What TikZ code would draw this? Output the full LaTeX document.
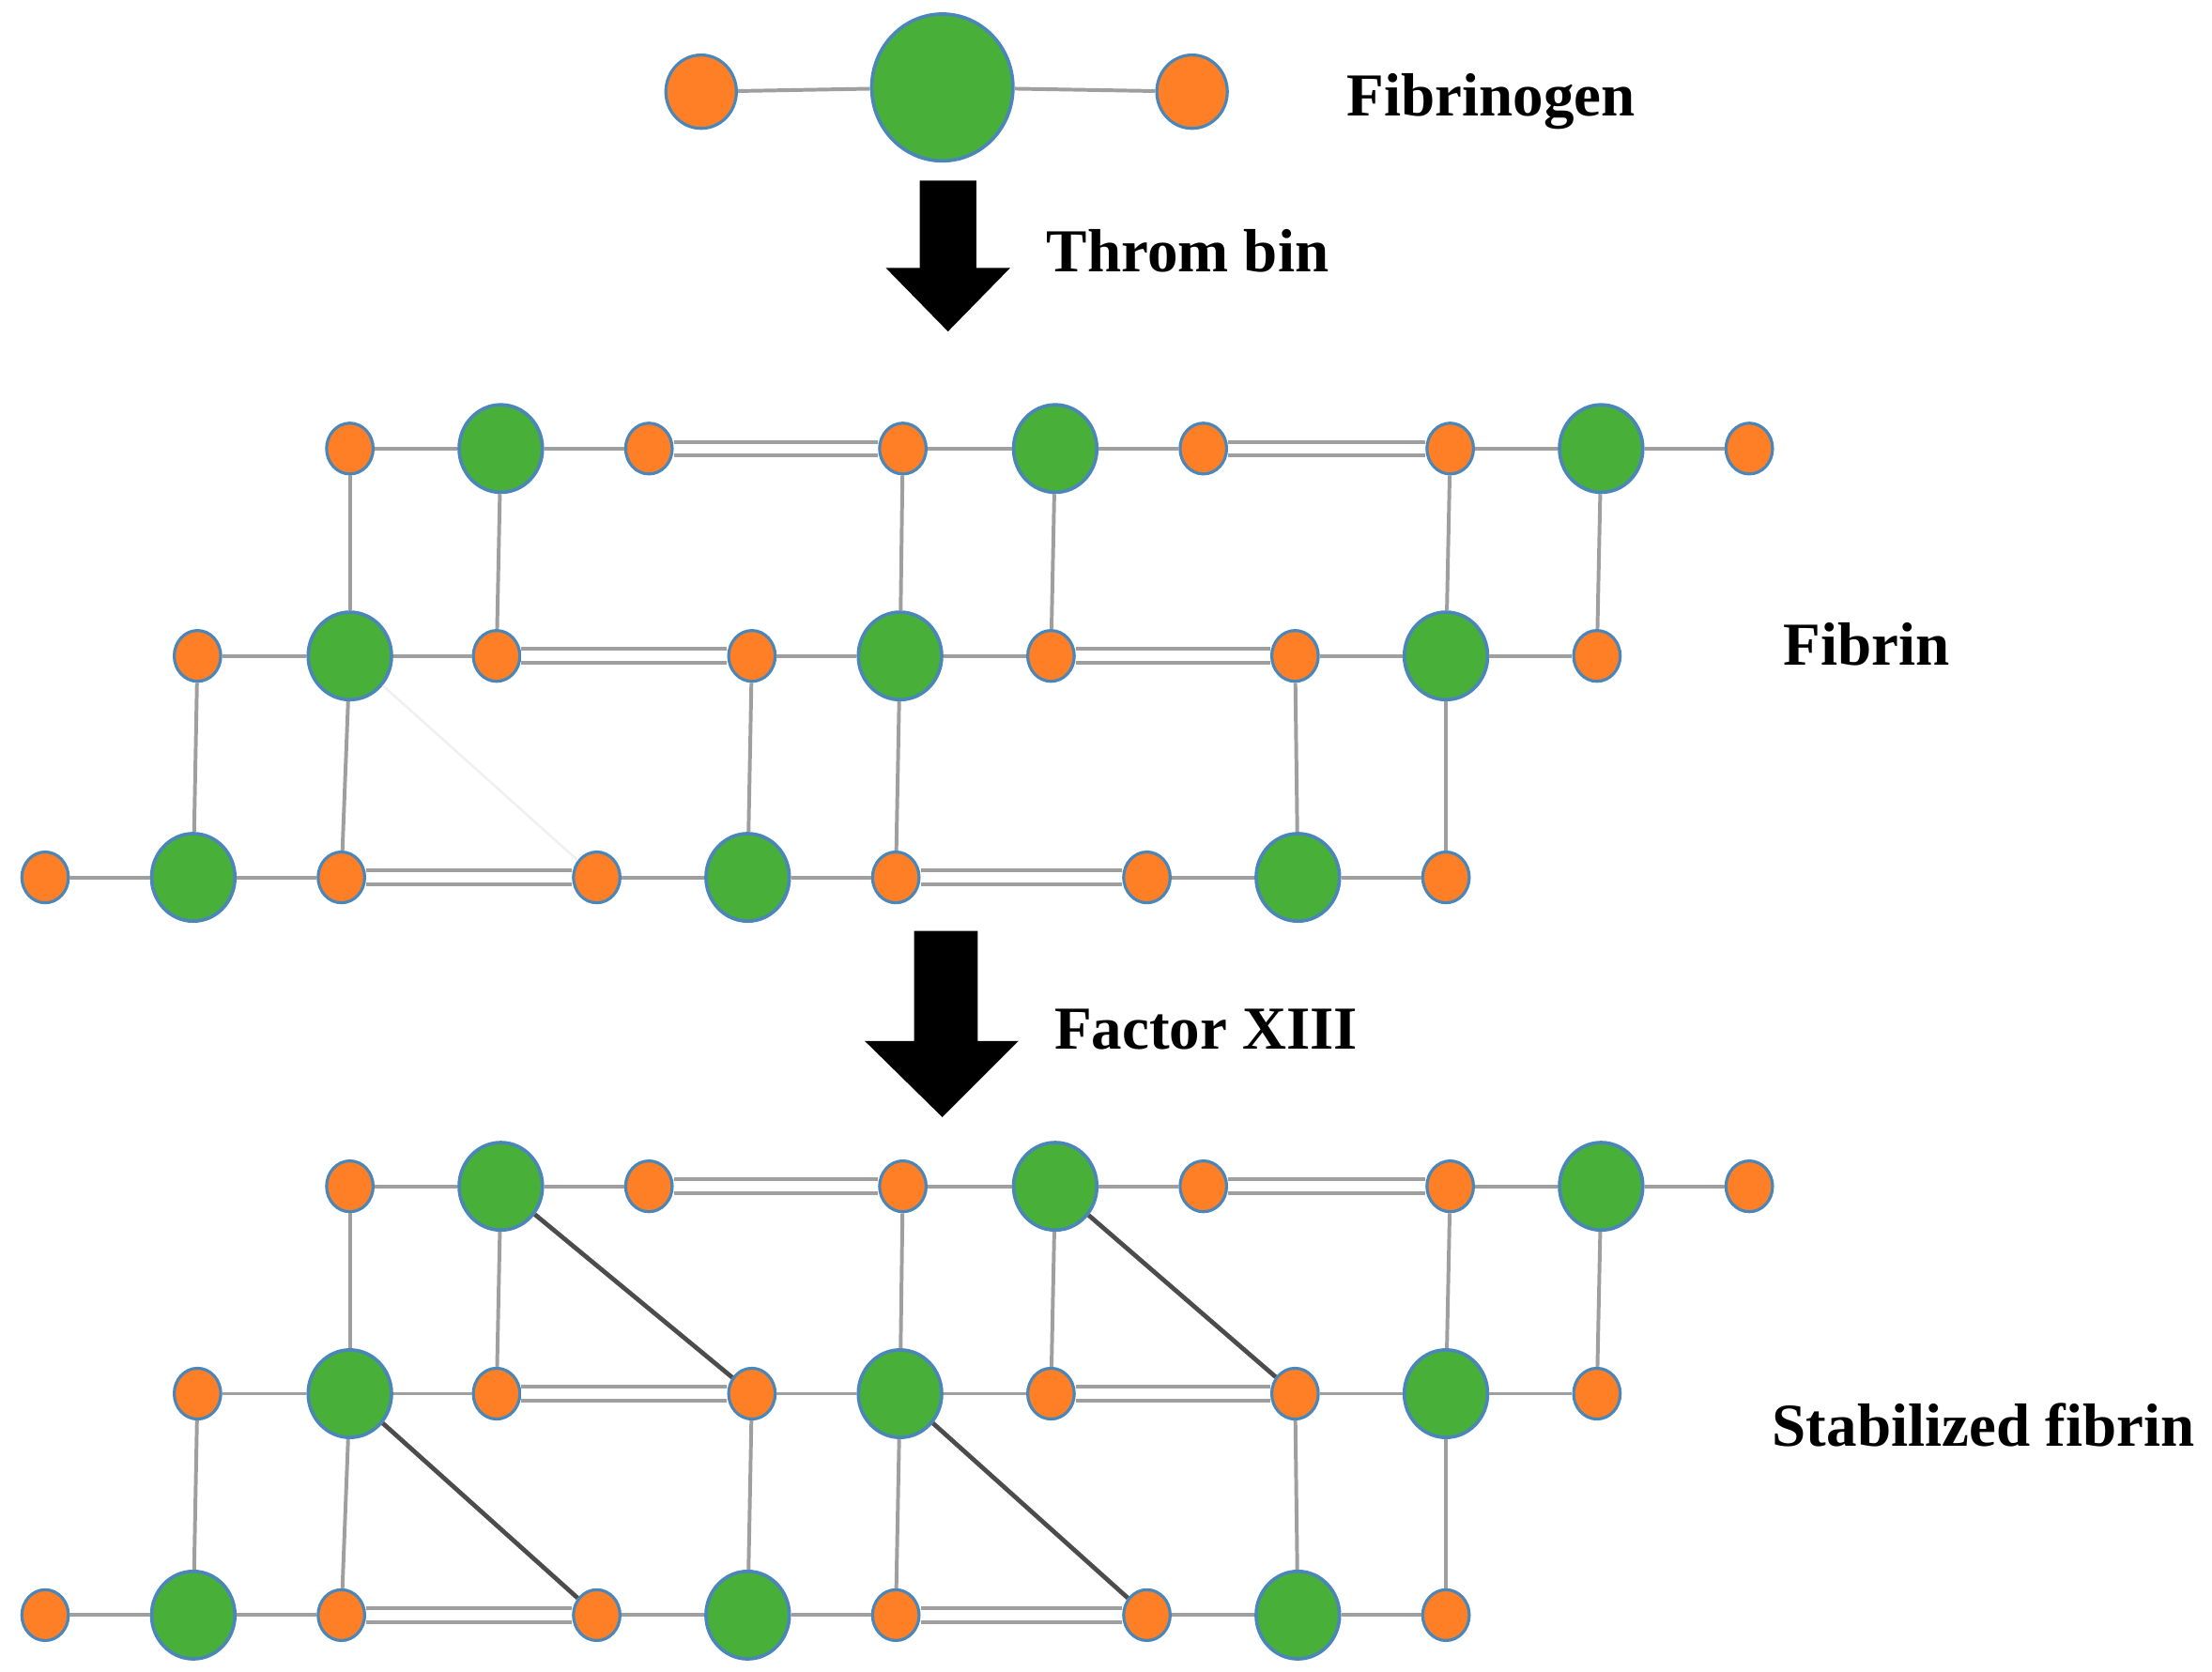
\documentclass[tikz,border=0pt]{standalone}
\usepackage{fontspec}
\setmainfont{Liberation Serif}
\usetikzlibrary{shapes.geometric}
\definecolor{or}{HTML}{FF7F27}
\definecolor{gr}{HTML}{48B038}
\definecolor{bd}{HTML}{4A86B8}
\begin{document}
\begin{tikzpicture}[x=0.01cm,y=-0.01cm,
  o/.style={ellipse,fill=or,draw=bd,line width=0.6pt,minimum width=0.33cm,minimum height=0.36cm,inner sep=0pt},
  ob/.style={ellipse,fill=or,draw=bd,line width=0.6pt,minimum width=0.5cm,minimum height=0.52cm,inner sep=0pt},
  g/.style={ellipse,fill=gr,draw=bd,line width=0.7pt,minimum width=0.59cm,minimum height=0.62cm,inner sep=0pt},
  go/.style={ellipse,fill=gr,draw=bd,line width=0.7pt,minimum width=1.0cm,minimum height=1.04cm,inner sep=0pt},
  e/.style={draw=gray!75,line width=0.75pt},
  dbl/.style={draw=gray!75,line width=0.75pt,double=white,double distance=0.07cm},
  dg/.style={draw=black!70,line width=0.9pt},
  lab/.style={font=\fontsize{12.3pt}{14pt}\selectfont\bfseries},
  arr/.style={fill=black}]
\useasboundingbox (0,0) rectangle (1568,1185);
% fibrinogen
\node[ob] (fa) at (497,65) {};
\node[go] (fb) at (668,62) {};
\node[ob] (fc) at (845,65) {};
\draw[e] (fa) -- (fb); \draw[e] (fb) -- (fc);
\node[lab] (t1) at (1057,72) {Fibrinogen};
% arrows
\fill[arr] (652,128) -- (692,128) -- (692,190) -- (716,190) -- (672,235) -- (628,190) -- (652,190) -- cycle;
\node[lab] (t2) at (842,178) {Throm bin};
\fill[arr] (648,660) -- (693,660) -- (693,738) -- (722,738) -- (668,792) -- (613,738) -- (648,738) -- cycle;
\node[lab] (t3) at (855,730) {Factor XIII};
\node[lab] (t4) at (1323,457) {Fibrin};
\node[lab] (t5) at (1406,1010) {Stabilized fibrin};
% networks
\foreach \p/\yo in {F/0,S/523}{
  \foreach \r/\yy/\xs in {1/318/{248,355,460,640,748,853,1028,1135,1240},
                         2/465/{140,248,352,533,638,745,918,1025,1132},
                         3/622/{32,137,242,423,530,635,813,920,1025}}{
    \foreach \x [count=\i] in \xs {
      \pgfmathtruncatemacro\m{mod(\i,3)}
      \ifnum\m=2 \node[g] (\p\r-\i) at (\x,\yy+\yo) {};
      \else \node[o] (\p\r-\i) at (\x,\yy+\yo) {}; \fi
    }
  }
  \foreach \r in {1,2,3}{
    \foreach \i [evaluate=\i as \j using int(\i+1)] in {1,2,4,5,7,8} \draw[e] (\p\r-\i) -- (\p\r-\j);
    \foreach \i [evaluate=\i as \j using int(\i+1)] in {3,6} \draw[dbl] (\p\r-\i) -- (\p\r-\j);
  }
  \foreach \r [evaluate=\r as \s using int(\r+1)] in {1,2}{
    \foreach \i [evaluate=\i as \j using int(\i+1)] in {1,2,4,5,7,8} \draw[e] (\p\r-\i) -- (\p\s-\j);
  }
}
\draw[draw=gray!12,line width=0.5pt] (F2-2) -- (F3-4);
\draw[dg] (S1-2) -- (S2-4);
\draw[dg] (S1-5) -- (S2-7);
\draw[dg] (S2-2) -- (S3-4);
\draw[dg] (S2-5) -- (S3-7);
\end{tikzpicture}
\end{document}
